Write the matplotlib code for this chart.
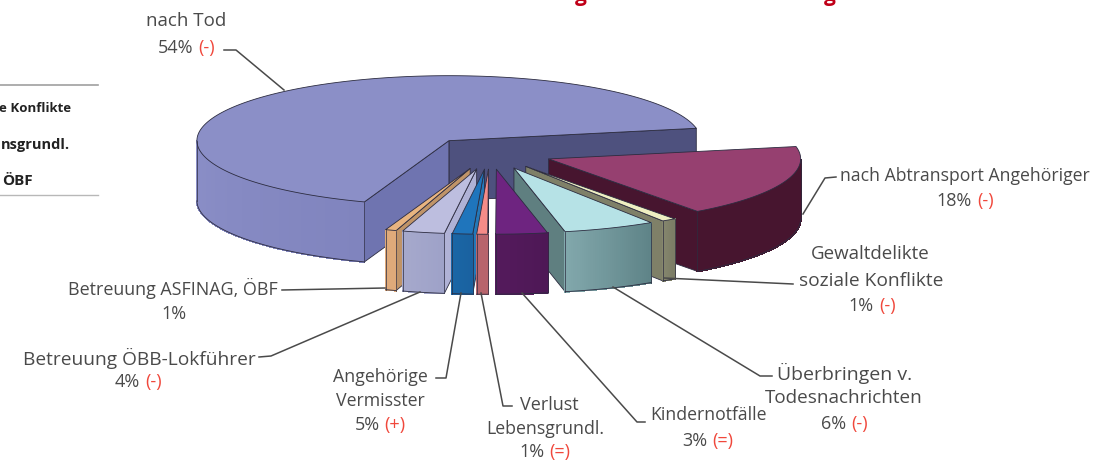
import numpy as np
import matplotlib
matplotlib.use('Agg')
import matplotlib.pyplot as plt
from matplotlib.patches import Polygon
from matplotlib.colors import to_rgb

# slice sizes in percent of the drawn pie, going round from the orange one
slice_names = ['ASFINAG', 'OEBB', 'Vermisste', 'Lebensgrundl', 'Kinder', 'Todesnachr', 'Gewalt', 'Abtransport', 'Tod']
slice_values = [0.7, 2.7, 1.3, 0.7, 3.3, 5.9, 0.9, 18.0, 66.5]

top_colors = ['#E8B480', '#BDBEDF', '#1F75BC', '#F58C88', '#6E2480', '#B6E2E6', '#EFEFC2', '#964070', '#8B8FC7']
near_colors = ['#DFAA7A', '#A6A9CC', '#1A66A6', '#B8646C', '#541A5C', '#82A8AC', '#86876E', '#47152F', '#8B8FC7']
far_colors = ['#DFAA7A', '#9EA2C8', '#1A62A0', '#B8646C', '#4E1856', '#5F8488', '#7C7D66', '#47152F', '#8084BE']
start_wall = ['#C09468', '#B0B2D6', '#2478B8', '#F0A09C', '#4F1A58', '#5F7F80', '#7F8068', '#47152F', '#4E517E']
end_wall = ['#C09468', '#B0B2D6', '#2478B8', '#D07C7C', '#4F1A58', '#5F7F80', '#7F8068', '#47152F', '#6F74B0']

cx, cy = 490, 153
rx, ry = 252, 65
depth = 60
explode = 0.25
first_angle = -19.6
draw_order = [8, 7, 6, 5, 0, 1, 2, 3, 4]

plt.rcParams['font.family'] = ['Open Sans', 'DejaVu Sans']
fig = plt.figure(figsize=(11.13, 4.61), dpi=100)
ax = fig.add_axes([0, 0, 1, 1])
ax.set_xlim(0, 1113)
ax.set_ylim(461, 0)
ax.axis('off')

TEXT = '#4a4a4a'
RED = '#f0483c'
LINE = '#4a4a4a'


def project(angle, r, ox, oy):
    a = np.radians(angle)
    return ox + r * rx * np.sin(a), oy + r * ry * np.cos(a)


def wall(p0, p1, color):
    pts = [p0, p1, (p1[0], p1[1] + depth), (p0[0], p0[1] + depth)]
    ax.add_patch(Polygon(pts, closed=True, fc=color, ec='#2c2c40', lw=0.6, joinstyle='round'))


def draw_slice(i, a0, a1):
    mid = (a0 + a1) / 2
    ox, oy = project(mid, explode, cx, cy)
    apex = (ox, oy)
    corner0 = project(a0, 1, ox, oy)
    corner1 = project(a1, 1, ox, oy)
    if np.sin(np.radians(a0)) > 0:
        wall(apex, corner0, start_wall[i])
    if np.sin(np.radians(a1)) < 0:
        wall(apex, corner1, end_wall[i])
    # outer wall only where it faces the viewer
    angles = np.linspace(a0, a1, max(int(a1 - a0) * 2, 12))
    angles = angles[np.cos(np.radians(angles)) >= -0.001]
    if len(angles) > 1:
        xs, ys = project(angles, 1, ox, oy)
        c0, c1 = np.array(to_rgb(near_colors[i])), np.array(to_rgb(far_colors[i]))
        base = list(zip(xs, ys)) + list(zip(xs[::-1], ys[::-1] + depth))
        ax.add_patch(Polygon(base, closed=True, fc=(c0 + c1) / 2, ec='none'))
        for k in range(len(angles) - 1):
            c = c0 + (c1 - c0) * k / max(len(angles) - 2, 1)
            ax.add_patch(Polygon([(xs[k], ys[k]), (xs[k + 1], ys[k + 1]),
                                  (xs[k + 1], ys[k + 1] + depth), (xs[k], ys[k] + depth)],
                                 closed=True, fc=c, ec=c, lw=0.8, antialiased=False))
        ax.plot(xs, ys + depth, color='#2c2c40', lw=0.6)
        ax.plot([xs[0], xs[0]], [ys[0], ys[0] + depth], color='#2c2c40', lw=0.5)
        ax.plot([xs[-1], xs[-1]], [ys[-1], ys[-1] + depth], color='#2c2c40', lw=0.5)
    arc = np.linspace(a0, a1, max(int(a1 - a0) * 2, 12))
    xs, ys = project(arc, 1, ox, oy)
    pts = [apex] + list(zip(xs, ys))
    ax.add_patch(Polygon(pts, closed=True, fc=top_colors[i], ec='#2c2c40', lw=0.6, joinstyle='round'))


edges = first_angle + np.concatenate([[0], np.cumsum(slice_values)]) / sum(slice_values) * 360
for i in draw_order:
    draw_slice(i, edges[i], edges[i + 1])

# leader lines
leaders = [
    [(224, 50), (236, 50), (284, 90)],
    [(836, 177), (825, 178), (803, 214)],
    [(793, 284), (664, 278)],
    [(282, 290), (385, 288)],
    [(259, 357), (271, 356), (420, 292)],
    [(436, 378), (446, 378), (461, 293)],
    [(512, 406), (503, 406), (481, 293)],
    [(645, 422), (637, 422), (522, 293)],
    [(772, 376), (760, 376), (613, 287)],
]
for line in leaders:
    xs, ys = zip(*line)
    ax.plot(xs, ys, color=LINE, lw=1.1)

# slice labels
fig.canvas.draw()
renderer = fig.canvas.get_renderer()


def pct_label(x, y, pct, trend):
    t1 = ax.text(0, y, pct, color=TEXT, fontsize=13, ha='left', va='center')
    w1 = t1.get_window_extent(renderer).width
    if not trend:
        t1.set_position((x - w1 / 2, y))
        return
    t2 = ax.text(0, y, trend, color=RED, fontsize=13, ha='left', va='center')
    w2 = t2.get_window_extent(renderer).width
    left = x - (w1 + 5 + w2) / 2
    t1.set_position((left, y))
    t2.set_position((left + w1 + 5, y))


name_texts = [
    ('nach Tod', 186, 21, 13.5), ('nach Abtransport Angehöriger', 965, 176, 12.7),
    ('Gewaltdelikte', 870, 254, 13.5), ('soziale Konflikte', 871, 281, 13.8),
    ('Betreuung ASFINAG, ÖBF', 173, 288, 12.9), ('Betreuung ÖBB-Lokführer', 139, 358, 13.8),
    ('Angehörige', 380, 377, 12.8), ('Vermisster', 380, 401, 12.8),
    ('Verlust', 549, 405, 13), ('Lebensgrundl.', 545, 429, 12.8),
    ('Kindernotfälle', 709, 415, 12.7),
    ('Überbringen v.', 845, 373, 14), ('Todesnachrichten', 844, 398, 13.6),
]
for s, x, y, size in name_texts:
    ax.text(x, y, s, color=TEXT, fontsize=size, ha='center', va='center')

pct_texts = [
    ('54%', '(-)', 186, 48), ('18%', '(-)', 965, 201), ('1%', '(-)', 872, 306),
    ('1%', '', 174, 314), ('4%', '(-)', 138, 382), ('5%', '(+)', 380, 425),
    ('1%', '(=)', 545, 452), ('3%', '(=)', 708, 441), ('6%', '(-)', 844, 424),
]
for pct, trend, x, y in pct_texts:
    pct_label(x, y, pct, trend)

# what is left of the cropped table on the left
ax.plot([0, 98], [85, 85], color='#a0a0a0', lw=1.2)
ax.plot([0, 98], [195, 195], color='#b8b8b8', lw=1.0)
table_rows = [('e Konflikte', 71, 108, 9.5), ('nsgrundl.', 70, 145, 10.5), ('ÖBF', 33, 181, 11)]
for s, x, y, size in table_rows:
    ax.text(x, y, s, color='#222222', fontsize=size, fontweight='bold', ha='right', va='center')

# bottom of the cropped red heading
for x in [581, 830]:
    ax.text(x, -5, 'g', color='#c00018', fontsize=15, fontweight='bold', ha='center', va='center')

fig.savefig('out.png', dpi=100)
